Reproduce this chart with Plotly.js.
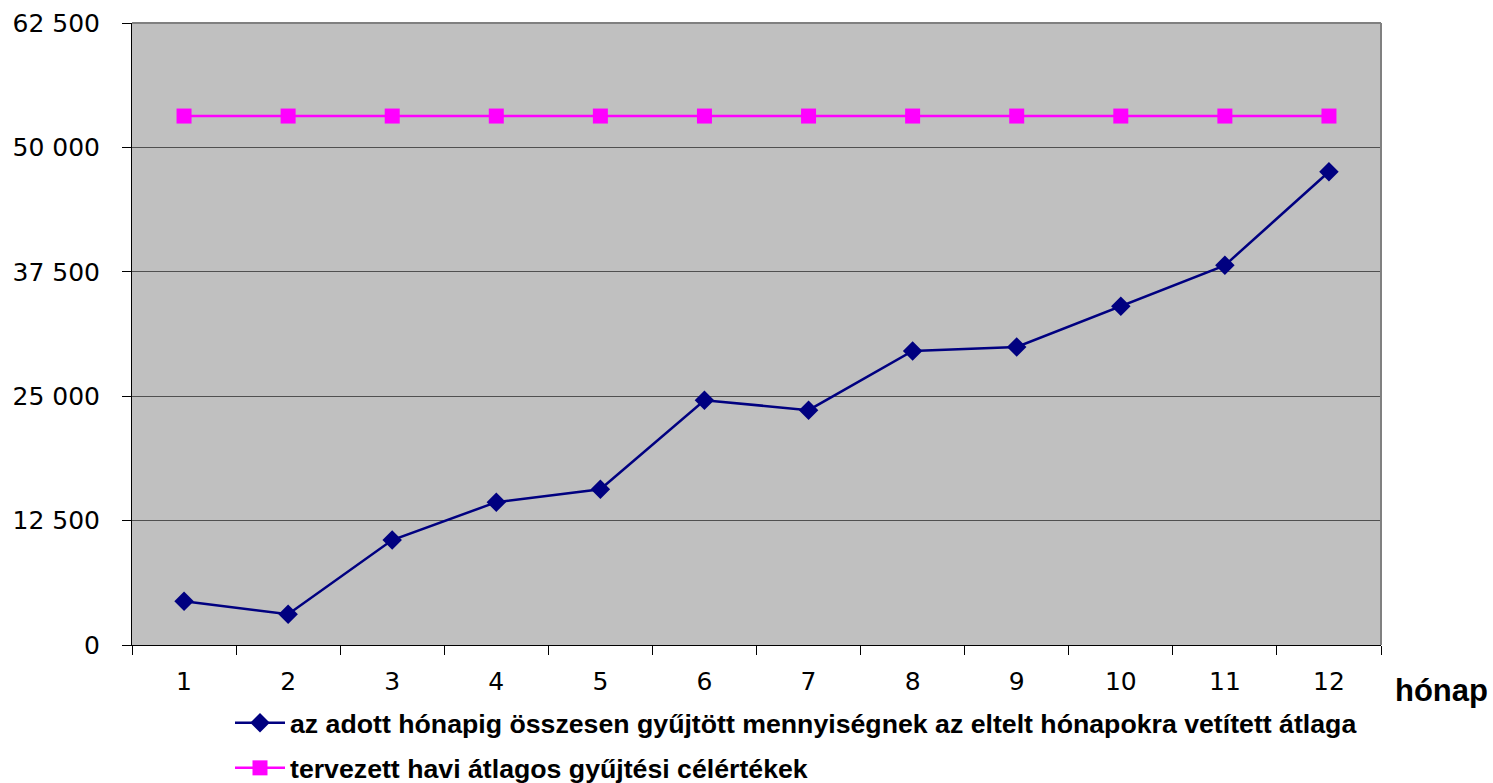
<!DOCTYPE html>
<html>
<head>
<meta charset="utf-8">
<script src="https://cdn.plot.ly/plotly-3.0.1.min.js"></script>
<style>
  html, body { margin: 0; padding: 0; background: #fff; }
  #chart { width: 1493px; height: 783px; }
</style>
</head>
<body>
<div id="chart"></div>
<script>
// hónapok
const months = ['1', '2', '3', '4', '5', '6', '7', '8', '9', '10', '11', '12'];

// az adott hónapig összesen gyűjtött mennyiség átlaga
const avgValues = [4400, 3100, 10550, 14350, 15650, 24600, 23600, 29550, 29950, 34050, 38150, 47550];

// tervezett havi átlagos célérték
const targetValues = [53150, 53150, 53150, 53150, 53150, 53150, 53150, 53150, 53150, 53150, 53150, 53150];

const yTicks = [0, 12500, 25000, 37500, 50000, 62500];
const yTickText = ['0', '12 500', '25 000', '37 500', '50 000', '62 500'];

const traceAvg = {
  x: months,
  y: avgValues,
  type: 'scatter',
  mode: 'lines+markers',
  name: 'az adott hónapig összesen gyűjtött mennyiségnek az eltelt hónapokra vetített átlaga',
  line: { color: '#000080', width: 2.5 },
  marker: { symbol: 'diamond', size: 15, color: '#000080' },
  legend: 'legend'
};

const traceTarget = {
  x: months,
  y: targetValues,
  type: 'scatter',
  mode: 'lines+markers',
  name: 'tervezett havi átlagos gyűjtési célértékek',
  line: { color: '#ff00ff', width: 2.5 },
  marker: { symbol: 'square', size: 15, color: '#ff00ff' },
  legend: 'legend2'
};

const legendFont = { family: 'Liberation Sans, Arial, sans-serif', size: 26.7, color: '#000', weight: 'bold' };
const tickFont = { family: 'DejaVu Sans, Verdana, sans-serif', size: 25, color: '#000' };

// pixel -> paper (plot area 645 bottom, 622 high; 132 left, 1249 wide)
const py = px => (645 - px) / 622;
const pxx = px => (px - 132) / 1249;

const layout = {
  width: 1493,
  height: 783,
  paper_bgcolor: '#ffffff',
  plot_bgcolor: '#c0c0c0',
  margin: { l: 132, r: 112, t: 23, b: 138, autoexpand: false },
  showlegend: true,
  xaxis: {
    type: 'category',
    range: [-0.5, 11.5],
    tickson: 'boundaries',
    ticks: 'outside',
    ticklen: 9,
    tickcolor: '#000',
    tickangle: 0,
    ticklabelstandoff: 14,
    showgrid: false,
    showline: true,
    linecolor: '#000',
    linewidth: 1,
    tickfont: tickFont,
    zeroline: false,
    automargin: false,
    fixedrange: true
  },
  yaxis: {
    range: [0, 62500],
    tickvals: yTicks,
    ticktext: yTickText,
    ticks: 'outside',
    ticklen: 9,
    tickcolor: '#000',
    ticklabelstandoff: 17,
    showgrid: true,
    gridcolor: '#505050',
    gridwidth: 1.3,
    showline: true,
    linecolor: '#000',
    linewidth: 1,
    zeroline: false,
    tickfont: tickFont,
    automargin: false,
    fixedrange: true
  },
  shapes: [
    { type: 'line', xref: 'paper', yref: 'paper', x0: 1, x1: 1, y0: 0, y1: 1, line: { color: '#808080', width: 2 } },
    { type: 'line', xref: 'paper', yref: 'paper', x0: 0, x1: 1, y0: 1, y1: 1, line: { color: '#808080', width: 2 } }
  ],
  legend: {
    x: pxx(230), y: py(723), xanchor: 'left', yanchor: 'middle',
    font: legendFont, bgcolor: 'rgba(0,0,0,0)', itemwidth: 50
  },
  legend2: {
    x: pxx(230), y: py(768), xanchor: 'left', yanchor: 'middle',
    font: legendFont, bgcolor: 'rgba(0,0,0,0)', itemwidth: 50
  },
  annotations: [
    {
      text: 'hónap', xref: 'paper', yref: 'paper', x: pxx(1393), y: py(690),
      xanchor: 'left', yanchor: 'middle', showarrow: false,
      font: { family: 'Liberation Sans, Arial, sans-serif', size: 31, color: '#000', weight: 'bold' }
    }
  ]
};

Plotly.newPlot('chart', [traceAvg, traceTarget], layout, { staticPlot: true });
</script>
</body>
</html>
